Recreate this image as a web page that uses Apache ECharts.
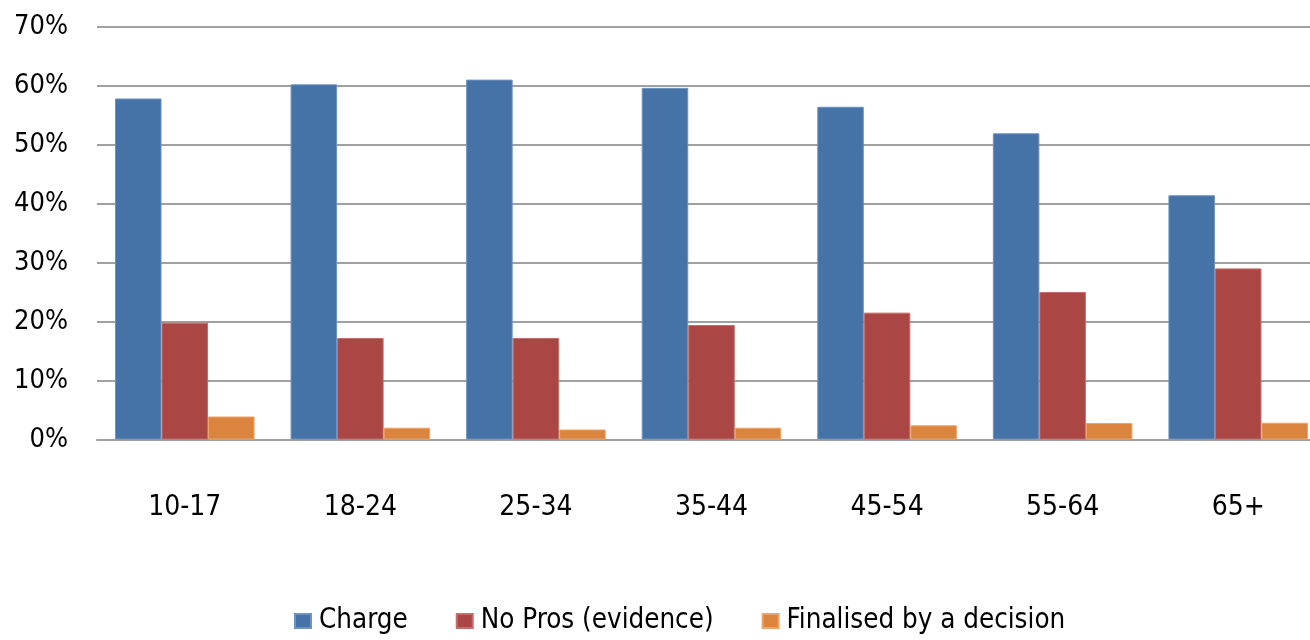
<!DOCTYPE html>
<html>
<head>
<meta charset="utf-8">
<script src="https://cdn.jsdelivr.net/npm/echarts@6/dist/echarts.min.js"></script>
<style>
html,body{margin:0;padding:0;background:#fff;overflow:hidden;}
#c{width:1310px;height:640px;}
</style>
</head>
<body>
<div id="c"></div>
<script>
const categories = ['10-17','18-24','25-34','35-44','45-54','55-64','65+'];
const charge = [57.8, 60.2, 61.0, 59.6, 56.4, 51.9, 41.4];
const noPros = [19.8, 17.2, 17.2, 19.4, 21.5, 25.0, 29.0];
const finalised = [3.9, 2.0, 1.7, 2.0, 2.4, 2.8, 2.85];
const seriesNames = ['Charge','No Pros (evidence)','Finalised by a decision'];
const colors = ['#4572A7','#AA4643','#DB843D'];
const borders = ['#6f93c0','#c46e6b','#eba46a'];

const FONT = '"DejaVu Sans Condensed","Liberation Sans Narrow","Liberation Sans",sans-serif';
const chart = echarts.init(document.getElementById('c'));
const data = [charge, noPros, finalised];
chart.setOption({
  animation:false,
  color: colors,
  grid:{left:97, width:1229, top:26.5, bottom:200.5, containLabel:false, outerBoundsMode:'none'},
  legend:{
    left:289, top:601, itemWidth:16, itemHeight:14, itemGap:48,
    icon:'rect',
    textStyle:{fontFamily:FONT, fontSize:27.5, lineHeight:30, color:'#000', padding:[0,0,0,3]},
    data: seriesNames
  },
  xAxis:{
    type:'category', data:categories,
    axisLine:{show:true, lineStyle:{color:'#a0a0a0', width:2}},
    axisTick:{show:false},
    axisLabel:{fontFamily:FONT, fontSize:28, color:'#000', margin:54}
  },
  yAxis:{
    type:'value', min:0, max:70, interval:10,
    axisLine:{show:false}, axisTick:{show:false},
    splitLine:{lineStyle:{color:'#a0a0a0', width:2}},
    axisLabel:{fontFamily:FONT, fontSize:27, color:'#000', margin:29, formatter:'{value}%'}
  },
  series: seriesNames.map((n,i)=>({
    name:n, type:'bar', data:data[i],
    barGap:'0%', barCategoryGap:'20.5%',
    itemStyle:{color:colors[i], borderColor:borders[i], borderWidth:1}
  }))
});
</script>
</body>
</html>
